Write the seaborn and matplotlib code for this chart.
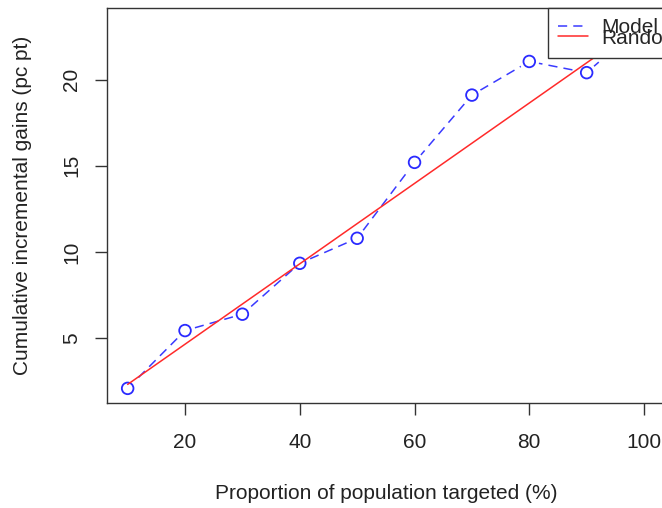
import matplotlib
matplotlib.use("Agg")
import matplotlib.pyplot as plt
import seaborn as sns
import pandas as pd

pct_targeted = [10, 20, 30, 40, 50, 60, 70, 80, 90, 100]
model_gains = [2.1, 5.45, 6.4, 9.35, 10.8, 15.2, 19.1, 21.05, 20.4, 23.3]
random_gains = [2.33, 4.66, 6.99, 9.32, 11.65, 13.98, 16.31, 18.64, 20.97, 23.3]
x_ticks = [20, 40, 60, 80, 100]
y_ticks = [5, 10, 15, 20]

sns.set_style("white")
plt.rcParams['font.family'] = ['Liberation Sans', 'DejaVu Sans']

df = pd.DataFrame({"pct": pct_targeted, "model": model_gains, "random": random_gains})

fig = plt.figure(figsize=(6.62, 5.08), dpi=100)
ax = fig.add_axes([107/662, 105/508, (664.7-107)/662, (403-8)/508])

sns.lineplot(data=df, x="pct", y="model", ax=ax, color="#3a3aff", lw=1.1,
             linestyle=(0, (6, 4)), label="Model", zorder=1)
# white gaps around points (R type="b" look)
sns.scatterplot(data=df, x="pct", y="model", ax=ax, s=200, marker="o",
                color="white", edgecolor="none", linewidth=0, zorder=2)
sns.scatterplot(data=df, x="pct", y="model", ax=ax, s=70, marker="o",
                facecolor="none", edgecolor="#2a2aff", linewidth=1.3, zorder=3)
sns.lineplot(data=df, x="pct", y="random", ax=ax, color="#ff2a2a", lw=1.1,
             label="Random", zorder=4)

xr = max(pct_targeted) - min(pct_targeted)
ax.set_xlim(min(pct_targeted) - 0.04 * xr, max(pct_targeted) + 0.04 * xr)
ymin = min(model_gains + random_gains); ymax = max(model_gains + random_gains)
yr = ymax - ymin
ax.set_ylim(ymin - 0.04 * yr, ymax + 0.04 * yr)

ax.set_xticks(x_ticks)
ax.set_yticks(y_ticks)
ax.set_xticklabels([str(t) for t in x_ticks], fontsize=15, color="#222222")
ax.set_yticklabels([str(t) for t in y_ticks], fontsize=15, rotation=90, va="center", color="#222222")
ax.tick_params(axis="both", direction="out", length=8.6, width=1.0, color="#333333",
               bottom=True, left=True)
ax.tick_params(axis="x", pad=13)
ax.tick_params(axis="y", pad=10)
for s in ax.spines.values():
    s.set_color("#333333"); s.set_linewidth(1.0)

ax.set_xlabel("Proportion of population targeted (%)", fontsize=15, color="#222222", labelpad=23)
ax.set_ylabel("Cumulative incremental gains (pc pt)", fontsize=15, color="#222222", labelpad=22)

leg = ax.legend(loc="upper left", bbox_to_anchor=(548/662, 1 - 8/508),
                bbox_transform=fig.transFigure, fontsize=15, frameon=True, fancybox=False,
                framealpha=1, edgecolor="#333333", labelspacing=-0.42, handlelength=1.4,
                handletextpad=0.65, borderpad=0.5, borderaxespad=0)
leg.get_frame().set_linewidth(1.0)
leg.set_zorder(10)

fig.savefig("out.png", dpi=100)
